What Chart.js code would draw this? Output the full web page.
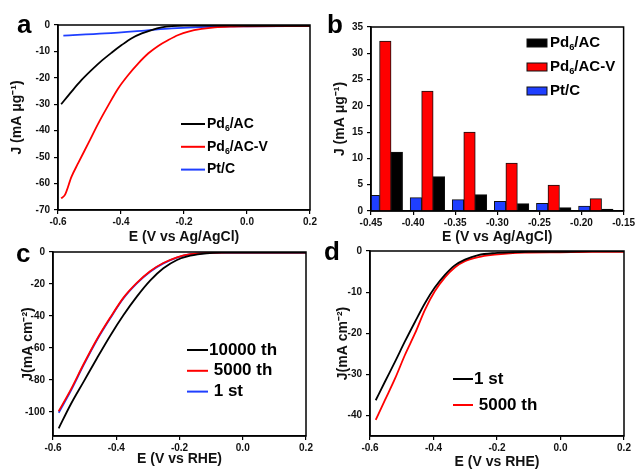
<!DOCTYPE html>
<html>
<head>
<meta charset="utf-8">
<script src="https://cdn.jsdelivr.net/npm/chart.js@4.4.1/dist/chart.umd.min.js"></script>
<style>
    body { margin: 0; background: #fff; }
    #wrap { position: relative; width: 637px; height: 471px; overflow: hidden; font-family: "Liberation Sans", Arial, sans-serif; }
    #wrap canvas { position: absolute; }
    .letter { position: absolute; font-weight: bold; font-size: 26px; line-height: 26px; color: #000; }
</style>
</head>
<body>
<div id="wrap">
    <canvas id="chartA" width="330" height="250" style="left:0;top:0;"></canvas>
    <canvas id="chartB" width="319" height="250" style="left:318px;top:0;"></canvas>
    <canvas id="chartC" width="330" height="236" style="left:0;top:235px;"></canvas>
    <canvas id="chartD" width="319" height="236" style="left:318px;top:235px;"></canvas>
    <div class="letter" style="left:17px;top:11px;">a</div>
    <div class="letter" style="left:327px;top:11px;">b</div>
    <div class="letter" style="left:16px;top:240px;">c</div>
    <div class="letter" style="left:324px;top:238px;">d</div>
</div>
<script>
// panel a : LSV, mass activity
const aBlackE = [-0.590, -0.557, -0.525, -0.493, -0.461, -0.430, -0.398, -0.366, -0.334, -0.303, -0.271, -0.239, -0.20, -0.10, 0.0, 0.1, 0.2];
const aBlackJ = [-30.0, -25.2, -20.8, -17.0, -13.5, -10.5, -7.6, -5.0, -3.2, -1.9, -0.9, -0.4, -0.2, -0.2, -0.3, -0.3, -0.3];
const aRedE = [-0.590, -0.578, -0.557, -0.536, -0.504, -0.472, -0.440, -0.409, -0.377, -0.345, -0.313, -0.282, -0.250, -0.218, -0.186, -0.144, -0.102, -0.05, 0.0, 0.1, 0.2];
const aRedJ = [-65.6, -64.3, -57.4, -52.3, -44.8, -37.2, -30.3, -24.0, -18.9, -14.5, -10.7, -7.9, -5.7, -3.8, -2.5, -1.5, -0.9, -0.6, -0.5, -0.4, -0.4];
const aBlueE = [-0.583, -0.451, -0.324, -0.239, -0.102, 0.0, 0.2];
const aBlueJ = [-4.0, -3.2, -2.1, -1.3, -0.6, -0.5, -0.4];

// panel b : bars at each potential
const bPotentials = [-0.433, -0.383, -0.333, -0.283, -0.233, -0.183];
const bPd6AC = [11.2, 6.53, 3.11, 1.40, 0.63, 0.38];
const bPd6ACV = [32.3, 22.8, 15.0, 9.13, 4.95, 2.35];
const bPtC = [2.98, 2.54, 2.16, 1.84, 1.46, 0.95];

// panel c : stability, cycles
const cE = [-0.582, -0.545, -0.503, -0.461, -0.419, -0.377, -0.335, -0.293, -0.251, -0.208, -0.166, -0.114, -0.05, 0.0, 0.1, 0.2];
const c10000 = [-110.2, -95.6, -81.0, -66.4, -52.3, -39.4, -27.9, -17.9, -10.2, -5.0, -2.3, -0.8, -0.4, -0.3, -0.3, -0.3];
const c5000 = [-99.5, -86.5, -70.0, -54.5, -41.0, -28.5, -19.3, -12.0, -6.9, -3.3, -1.3, -0.6, -0.4, -0.4, -0.4, -0.4];
const c1st = [-100.5, -87.3, -70.6, -55.0, -41.4, -28.9, -19.6, -12.3, -7.1, -3.5, -1.4, -0.6, -0.4, -0.3, -0.3, -0.3];

// panel d
const dE = [-0.582, -0.553, -0.521, -0.490, -0.458, -0.427, -0.396, -0.364, -0.333, -0.301, -0.259, -0.207, -0.15, -0.1, 0.0, 0.1, 0.2];
const d1st = [-36.3, -31.8, -26.9, -22.0, -17.2, -12.7, -8.9, -5.8, -3.5, -2.1, -1.0, -0.5, -0.3, -0.2, -0.2, -0.1, -0.1];
const d5000 = [-41.1, -36.3, -31.0, -25.3, -20.0, -14.3, -9.8, -6.4, -4.0, -2.5, -1.5, -0.9, -0.5, -0.4, -0.3, -0.2, -0.2];

const FONT = '"Liberation Sans", Arial, sans-serif';
const RED = '#ff0000';
const BLUE = '#1f3fff';

const pts = (xs, ys) => xs.map((x, i) => ({ x: x, y: ys[i] }));

// box around the plot area
const frame = {
    id: 'frame',
    afterDatasetsDraw(chart) {
        const ctx = chart.ctx, a = chart.chartArea;
        ctx.save();
        ctx.strokeStyle = '#000';
        ctx.lineWidth = 1.5;
        ctx.strokeRect(a.left, a.top, a.right - a.left, a.bottom - a.top);
        ctx.restore();
    }
};

// draws "Pd₆/AC" with a real small subscript
function drawLabel(ctx, text, x, y, size) {
    for (const ch of text) {
        const code = ch.charCodeAt(0);
        const sub = code >= 0x2080 && code <= 0x2089;
        const s = sub ? String.fromCharCode(code - 0x2080 + 48) : ch;
        ctx.font = 'bold ' + (sub ? size * 0.62 : size) + 'px ' + FONT;
        ctx.fillText(s, x, sub ? y + size * 0.32 : y);
        x += ctx.measureText(s).width;
    }
}

// legend drawn inside the plot
const innerLegend = {
    id: 'innerLegend',
    afterDraw(chart, args, o) {
        const ctx = chart.ctx;
        ctx.save();
        ctx.textBaseline = 'middle';
        chart.data.datasets.forEach((ds, i) => {
            const y = o.top + i * o.row;
            if (o.box) {
                ctx.fillStyle = ds.backgroundColor;
                ctx.fillRect(o.left, y - 4, o.sample, 8);
                ctx.strokeStyle = '#111';
                ctx.lineWidth = 1;
                ctx.strokeRect(o.left, y - 4, o.sample, 8);
            } else {
                ctx.strokeStyle = ds.borderColor;
                ctx.lineWidth = 2;
                ctx.beginPath();
                ctx.moveTo(o.left, y);
                ctx.lineTo(o.left + o.sample, y);
                ctx.stroke();
            }
            ctx.fillStyle = '#000';
            drawLabel(ctx, ds.label, o.left + o.sample + o.gap, y, o.size);
        });
        ctx.restore();
    }
};

function fmt(d) {
    return v => (Math.abs(v) < 1e-9 ? 0 : v).toFixed(d);
}

function axes(p) {
    const tickFont = { family: FONT, size: 10, weight: 'bold' };
    const titleFont = { family: FONT, size: 14, weight: 'bold' };
    return {
        x: {
            type: 'linear', min: p.xmin, max: p.xmax, offset: false,
            afterFit: s => { s.height = p.xh; },
            ticks: { stepSize: p.xstep, callback: fmt(p.xdec), font: tickFont, color: '#111', padding: 2, autoSkip: false, maxRotation: 0 },
            grid: { drawOnChartArea: false, offset: false, tickLength: 4, color: '#000', lineWidth: 1.2 },
            border: { color: '#000', width: 1.5 },
            title: { display: true, text: p.xtitle, font: titleFont, color: '#111', padding: { top: 0, bottom: p.xtp } }
        },
        y: {
            type: 'linear', min: p.ymin, max: p.ymax,
            afterFit: s => { s.width = p.yw; },
            ticks: { stepSize: p.ystep, includeBounds: false, callback: v => String(v), font: tickFont, color: '#111', padding: 4 },
            grid: { drawOnChartArea: false, tickLength: 4, color: '#000', lineWidth: 1.2 },
            border: { color: '#000', width: 1.5 },
            title: { display: true, text: p.ytitle, font: titleFont, color: '#111', padding: { top: p.ytp, bottom: 0 } }
        }
    };
}

function lineSet(label, color, data) {
    return { label: label, data: data, borderColor: color, backgroundColor: color, borderWidth: 1.8,
        pointRadius: 0, cubicInterpolationMode: 'monotone', fill: false };
}

function makeChart(id, type, datasets, scales, pad, legend) {
    return new Chart(document.getElementById(id), {
        type: type,
        data: { datasets: datasets },
        options: {
            responsive: false,
            animation: false,
            layout: { padding: { left: 0, bottom: 0, top: pad.top, right: pad.right } },
            plugins: { legend: { display: false }, tooltip: { enabled: false }, innerLegend: legend },
            scales: scales
        },
        plugins: [frame, innerLegend]
    });
}

function displayA() {
    makeChart('chartA', 'line', [
        lineSet('Pd₆/AC', '#000', pts(aBlackE, aBlackJ)),
        lineSet('Pd₆/AC-V', RED, pts(aRedE, aRedJ)),
        lineSet('Pt/C', BLUE, pts(aBlueE, aBlueJ))
    ], axes({ xmin: -0.6, xmax: 0.2, xstep: 0.2, xdec: 1, xh: 40, xtp: 4.6, xtitle: 'E (V vs Ag/AgCl)',
        ymin: -70, ymax: 0, ystep: 10, yw: 58, ytp: 8.6, ytitle: 'J (mA μg⁻¹)' }),
    { top: 25, right: 20 },
    { left: 181, top: 124, row: 22.8, sample: 24, gap: 2, size: 14 });
}

function displayB() {
    const off = 0.0137;
    const barSet = (label, color, vals, shift) => ({
        label: label,
        data: bPotentials.map((p, i) => ({ x: p + shift, y: vals[i] })),
        backgroundColor: color, borderColor: '#111', borderWidth: 1,
        barThickness: 11.5, grouped: false
    });
    makeChart('chartB', 'bar', [
        barSet('Pd₆/AC', '#000', bPd6AC, off),
        barSet('Pd₆/AC-V', RED, bPd6ACV, 0),
        barSet('Pt/C', BLUE, bPtC, -off)
    ], axes({ xmin: -0.45, xmax: -0.15, xstep: 0.05, xdec: 2, xh: 39, xtp: 4.6, xtitle: 'E (V vs Ag/AgCl)',
        ymin: 0, ymax: 35, ystep: 5, yw: 53, ytp: 13.6, ytitle: 'J (mA μg⁻¹)' }),
    { top: 27, right: 12 },
    { left: 209, top: 43, row: 24, sample: 20, gap: 3, size: 15, box: true });
}

function displayC() {
    makeChart('chartC', 'line', [
        lineSet('10000 th', '#000', pts(cE, c10000)),
        lineSet(' 5000 th', RED, pts(cE, c5000)),
        lineSet(' 1 st', BLUE, pts(cE, c1st))
    ], axes({ xmin: -0.6, xmax: 0.2, xstep: 0.2, xdec: 1, xh: 35, xtp: 3.6, xtitle: 'E (V vs RHE)',
        ymin: -115, ymax: 0, ystep: 20, yw: 53, ytp: 19.6, ytitle: 'J(mA cm⁻²)' }),
    { top: 17, right: 24 },
    { left: 187, top: 115, row: 20.8, sample: 21, gap: 1, size: 17 });
}

function displayD() {
    makeChart('chartD', 'line', [
        lineSet('1 st', '#000', pts(dE, d1st)),
        lineSet(' 5000 th', RED, pts(dE, d5000))
    ], axes({ xmin: -0.6, xmax: 0.2, xstep: 0.2, xdec: 1, xh: 35, xtp: 0, xtitle: 'E (V vs RHE)',
        ymin: -45, ymax: 0, ystep: 10, yw: 52, ytp: 16.6, ytitle: 'J(mA cm⁻²)' }),
    { top: 16, right: 13 },
    { left: 135, top: 144, row: 26, sample: 20, gap: 1, size: 17 });
}

displayA();
displayB();
displayC();
displayD();
</script>
</body>
</html>
